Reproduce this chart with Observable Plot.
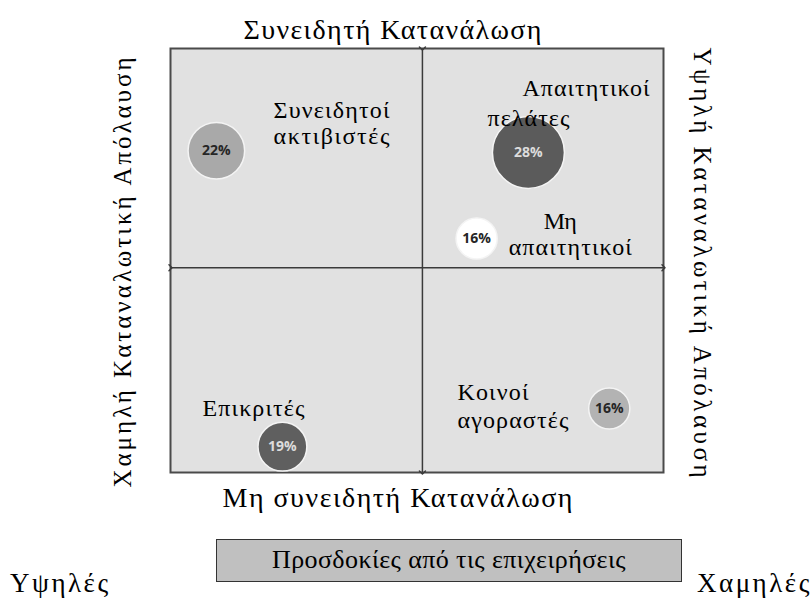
<!DOCTYPE html>
<html>
<head>
<meta charset="utf-8">
<script src="https://cdn.jsdelivr.net/npm/d3@7"></script>
<script src="https://cdn.jsdelivr.net/npm/@observablehq/plot@0.6"></script>
<style>
  body { margin: 0; background: #fff; }
  #wrap { position: relative; width: 811px; height: 599px; overflow: hidden; font-family: "Liberation Serif", "Times New Roman", serif; }
  #chart svg { display: block; }
  #legend { position: absolute; left: 0; top: 520px; width: 811px; height: 79px; }
  #legend .box { position: absolute; left: 216px; top: 19px; width: 466px; height: 43px; box-sizing: border-box;
    background: #c0c0c0; border: 1.5px solid #333; text-align: center; font-size: 26px; line-height: 39px; letter-spacing: 0.4px; color: #000; }
  #legend .end { position: absolute; top: 48px; font-size: 27px; line-height: 30px; letter-spacing: 2.5px; color: #000; }
</style>
</head>
<body>
<div id="wrap">
  <div id="chart"></div>
  <div id="legend"></div>
</div>
<script>
// ---- data ----
const segments = ["Συνειδητοί ακτιβιστές", "Απαιτητικοί πελάτες", "Μη απαιτητικοί", "Επικριτές", "Κοινοί αγοραστές"];
const shares = [22, 28, 16, 19, 16];
const enjoyment = [9.3, 72.6, 62.1, 22.7, 89.0];       // horizontal position (0 = low, 100 = high)
const consciousness = [75.9, 75.5, 55.2, 6.1, 15.1];   // vertical position (0 = non-conscious, 100 = conscious)

const labelLines = ["Συνειδητοί", "ακτιβιστές", "Απαιτητικοί", "πελάτες", "Μη", "απαιτητικοί", "Επικριτές", "Κοινοί", "αγοραστές"];
const labelX = [20.9, 20.9, 71.4, 64.3, 75.7, 68.6, 6.5, 58.2, 58.2];
const labelY = [83.7, 77.4, 88.9, 81.8, 57.5, 51.2, 13.4, 17.2, 10.6];

const midEnjoyment = 51.1;
const midConsciousness = 48.3;

const topTitle = ["Συνειδητή Κατανάλωση"];
const bottomTitle = ["Μη συνειδητή Κατανάλωση"];
const leftTitle = ["Χαμηλή Καταναλωτική Απόλαυση"];
const rightTitle = ["Υψηλή Καταναλωτική Απόλαυση"];
const legendTitle = "Προσδοκίες από τις επιχειρήσεις";
const legendHigh = "Υψηλές";
const legendLow = "Χαμηλές";

// ---- tables ----
const bubbles = segments.map((s, i) => ({segment: s, share: shares[i], x: enjoyment[i], y: consciousness[i]}));
const labels = labelLines.map((t, i) => ({text: t, x: labelX[i], y: labelY[i]}));
const dividers = [
  {x1: midEnjoyment, y1: 100, x2: midEnjoyment, y2: 0},
  {x1: 0, y1: midConsciousness, x2: 100, y2: midConsciousness}
];
const darkSegments = new Set(["Απαιτητικοί πελάτες", "Επικριτές"]);

const serif = '"Liberation Serif", "Times New Roman", serif';
const sans = '"Open Sans", sans-serif';

const plot = Plot.plot({
  width: 811,
  height: 520,
  marginTop: 48,
  marginBottom: 48,
  marginLeft: 170,
  marginRight: 148,
  x: {domain: [0, 100], axis: null},
  y: {domain: [0, 100], axis: null},
  r: {type: "linear", domain: [0, 28], range: [0, 36]},
  color: {domain: segments, range: ["#a9a9a9", "#5b5b5b", "#ffffff", "#5f5f5f", "#b3b3b3"]},
  style: {background: "transparent", overflow: "visible"},
  marks: [
    Plot.frame({fill: "#e1e1e1", stroke: "#4a4a4a", strokeWidth: 2}),
    Plot.link(dividers, {x1: "x1", y1: "y1", x2: "x2", y2: "y2", stroke: "#3a3a3a", strokeWidth: 1.5, markerStart: "arrow", markerEnd: "arrow"}),
    Plot.dot(bubbles, {x: "x", y: "y", r: "share", fill: "segment", stroke: "#f4f4f4", strokeWidth: 1.5}),
    Plot.text(bubbles, {filter: d => darkSegments.has(d.segment), x: "x", y: "y", text: d => d.share + "%", fill: "#dcdcdc", fontFamily: sans, fontWeight: "bold", fontSize: 14}),
    Plot.text(bubbles, {filter: d => !darkSegments.has(d.segment), x: "x", y: "y", text: d => d.share + "%", fill: "#262626", fontFamily: sans, fontWeight: "bold", fontSize: 14}),
    Plot.text(labels, {x: "x", y: "y", text: "text", textAnchor: "start", lineAnchor: "bottom", fontFamily: serif, fontSize: 24, fill: "#000"}),
    Plot.text(topTitle, {text: d => d, frameAnchor: "top-left", dx: 73, dy: -10, textAnchor: "start", lineAnchor: "bottom", fontFamily: serif, fontSize: 28, fill: "#000"}),
    Plot.text(bottomTitle, {text: d => d, frameAnchor: "bottom-left", dx: 52, dy: 34, textAnchor: "start", lineAnchor: "bottom", fontFamily: serif, fontSize: 28, fill: "#000"}),
    Plot.text(leftTitle, {text: d => d, frameAnchor: "bottom-left", dx: -40, dy: 15, rotate: -90, textAnchor: "start", lineAnchor: "bottom", fontFamily: serif, fontSize: 25, fill: "#000"}),
    Plot.text(rightTitle, {text: d => d, frameAnchor: "top-right", dx: 30, dy: -1, rotate: 90, textAnchor: "start", lineAnchor: "bottom", fontFamily: serif, fontSize: 25, fill: "#000"})
  ]
});

// stretch serif texts to the widths they occupy in the reference
const fitWidths = new Map([
  ["Συνειδητή Κατανάλωση", 298],
  ["Μη συνειδητή Κατανάλωση", 350],
  ["Χαμηλή Καταναλωτική Απόλαυση", 430],
  ["Υψηλή Καταναλωτική Απόλαυση", 430],
  ["Συνειδητοί", 116], ["ακτιβιστές", 116], ["Απαιτητικοί", 127], ["πελάτες", 82],
  ["Μη", 33], ["απαιτητικοί", 123], ["Επικριτές", 102], ["Κοινοί", 71], ["αγοραστές", 111]
]);
d3.select(plot).selectAll("text").each(function () {
  const w = fitWidths.get(this.textContent);
  if (w) {
    this.style.fontFamily = serif;
    this.setAttribute("textLength", w);
    this.setAttribute("lengthAdjust", "spacing");
  } else {
    this.style.fontFamily = sans;
  }
});

document.getElementById("chart").append(plot);

const legend = d3.select("#legend");
legend.append("div").attr("class", "end").style("left", "10px").text(legendHigh);
legend.append("div").attr("class", "box").text(legendTitle);
legend.append("div").attr("class", "end").style("left", "697px").text(legendLow);
</script>
</body>
</html>
